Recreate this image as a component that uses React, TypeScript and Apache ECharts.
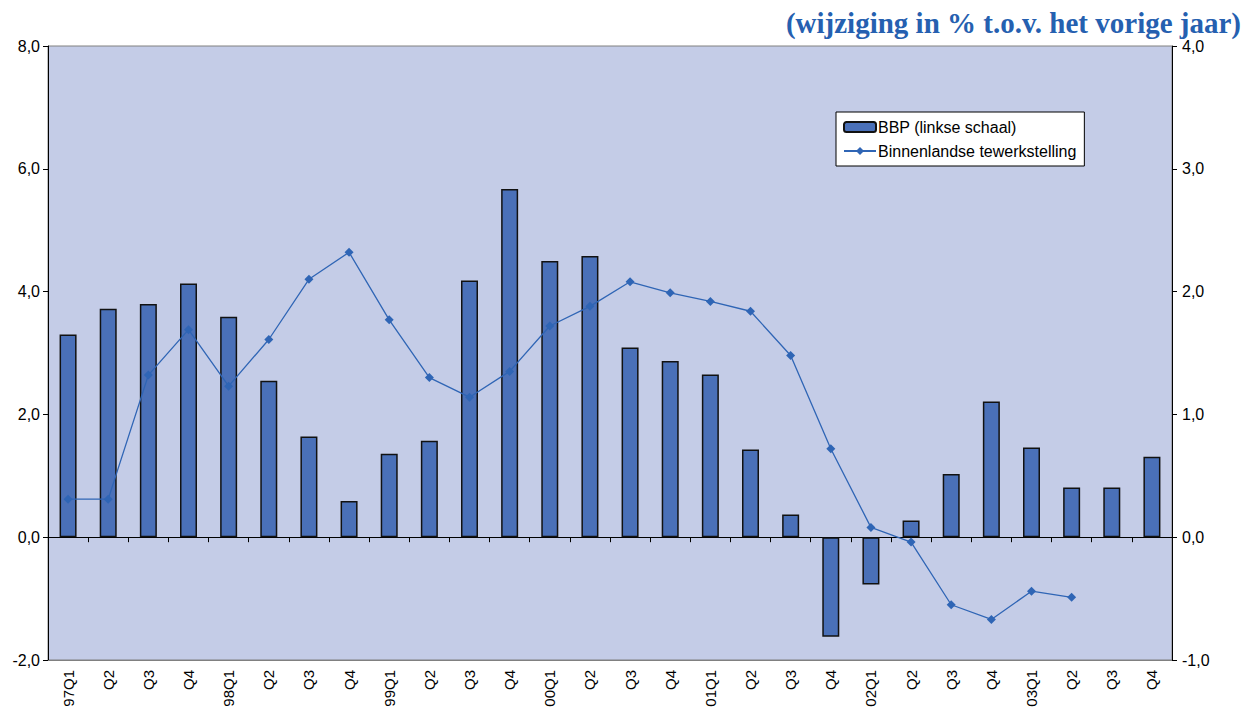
import React, { useEffect, useRef } from "react";
import * as echarts from "echarts";

const categories = [
  "97Q1", "Q2", "Q3", "Q4",
  "98Q1", "Q2", "Q3", "Q4",
  "99Q1", "Q2", "Q3", "Q4",
  "00Q1", "Q2", "Q3", "Q4",
  "01Q1", "Q2", "Q3", "Q4",
  "02Q1", "Q2", "Q3", "Q4",
  "03Q1", "Q2", "Q3", "Q4",
];

const bbp = [
  3.30, 3.72, 3.80, 4.13,
  3.59, 2.55, 1.64, 0.59,
  1.36, 1.57, 4.18, 5.67,
  4.50, 4.58, 3.09, 2.87,
  2.65, 1.43, 0.37, -1.62,
  -0.77, 0.27, 1.03, 2.21,
  1.46, 0.81, 0.81, 1.31,
];

const tewerkstelling: (number | null)[] = [
  0.31, 0.31, 1.32, 1.69,
  1.23, 1.61, 2.10, 2.32,
  1.77, 1.30, 1.14, 1.35,
  1.72, 1.88, 2.08, 1.99,
  1.92, 1.84, 1.48, 0.72,
  0.08, -0.04, -0.55, -0.67,
  -0.44, -0.49, null, null,
];

const titleText = "(wijziging in % t.o.v. het vorige jaar)";
const barName = "BBP (linkse schaal)";
const lineName = "Binnenlandse tewerkstelling";

const fmt = (v: number) => v.toFixed(1).replace(".", ",");

export default function App() {
  const ref = useRef<HTMLDivElement>(null);
  useEffect(() => {
    if (!ref.current) return;
    const chart = echarts.init(ref.current, undefined, { renderer: "svg" });
    const labelStyle = { color: "#000", fontFamily: "Liberation Sans, Arial, sans-serif", fontSize: 16 };
    chart.setOption({
      animation: false,
      backgroundColor: "#ffffff",
      title: {
        text: titleText,
        right: 12,
        top: 3,
        textStyle: {
          fontFamily: "Liberation Serif, Times New Roman, serif",
          fontWeight: "bold",
          fontSize: 29,
          color: "#2560b0",
        },
      },
      legend: {
        left: 836,
        top: 112,
        orient: "vertical",
        backgroundColor: "#ffffff",
        borderColor: "#000",
        borderWidth: 1,
        borderRadius: 0,
        padding: [7, 8, 7, 7],
        itemGap: 8,
        itemWidth: 32,
        itemHeight: 10,
        textStyle: { ...labelStyle, fontSize: 16, padding: [0, 0, 0, -3] },
        data: [barName, lineName],
      },
      grid: {
        left: 48,
        right: 86,
        top: 46,
        bottom: 51,
        show: true,
        backgroundColor: "#c4cce7",
        borderColor: "#808080",
        borderWidth: 1,
      },
      xAxis: [
        {
          type: "category",
          data: categories,
          boundaryGap: true,
          axisLine: { onZero: true, lineStyle: { color: "#000", width: 1 } },
          axisTick: { show: true, inside: false, length: 5, lineStyle: { color: "#000" } },
          axisLabel: { show: false },
          splitLine: { show: false },
        },
        {
          type: "category",
          data: categories,
          position: "bottom",
          boundaryGap: true,
          axisLine: { show: true, onZero: false, lineStyle: { color: "#808080" } },
          axisTick: { show: false },
          axisLabel: { ...labelStyle, fontSize: 15, rotate: 90, margin: 10, interval: 0 },
          splitLine: { show: false },
        },
      ],
      yAxis: [
        {
          type: "value",
          min: -2,
          max: 8,
          interval: 2,
          axisLine: { show: true, lineStyle: { color: "#000" } },
          axisTick: { show: true, length: 5, lineStyle: { color: "#000" } },
          axisLabel: { ...labelStyle, formatter: fmt, margin: 8 },
          splitLine: { show: false },
        },
        {
          type: "value",
          min: -1,
          max: 4,
          interval: 1,
          position: "right",
          axisLine: { show: true, lineStyle: { color: "#000" } },
          axisTick: { show: true, length: 5, lineStyle: { color: "#000" } },
          axisLabel: { ...labelStyle, formatter: fmt, margin: 10 },
          splitLine: { show: false },
        },
      ],
      series: [
        {
          name: barName,
          type: "bar",
          xAxisIndex: 0,
          yAxisIndex: 0,
          data: bbp,
          barWidth: 17,
          itemStyle: { color: "#4a70b8", borderColor: "#111", borderWidth: 1.5 },
        },
        {
          name: lineName,
          type: "line",
          xAxisIndex: 0,
          yAxisIndex: 1,
          data: tewerkstelling,
          symbol: "diamond",
          symbolSize: 9,
          showAllSymbol: true,
          lineStyle: { color: "#2f65b5", width: 1.3 },
          itemStyle: { color: "#2f65b5" },
        },
      ],
    });
    return () => chart.dispose();
  }, []);
  return (
    <div
      ref={ref}
      style={{ position: "fixed", left: 0, top: 0, width: 1258, height: 711 }}
    />
  );
}
